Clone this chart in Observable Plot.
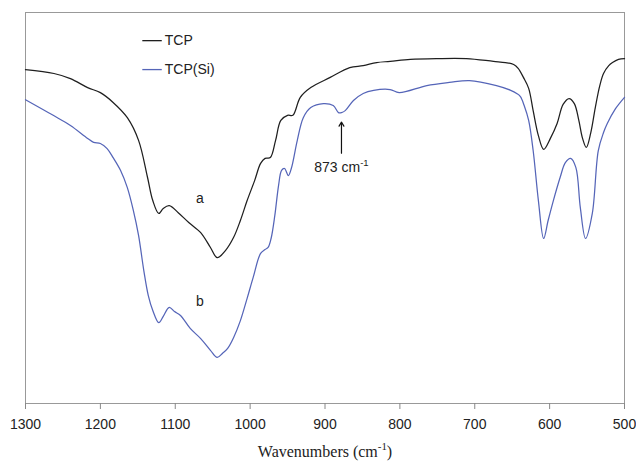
<!DOCTYPE html>
<html><head><meta charset="utf-8">
<script src="https://cdn.jsdelivr.net/npm/d3@7"></script>
<script src="https://cdn.jsdelivr.net/npm/@observablehq/plot@0.6"></script>
<style>body{margin:0;background:#fff}</style>
</head><body><div id="chart"></div>
<script>
// Wavenumber (cm-1) and relative transmittance
const wnTCP = [1300,1262,1240,1217,1200,1183,1164,1149,1137,1130,1122,1116,1108,1096,1082,1066,1053,1044,1033,1022,1013,1004,994,986,980,973,966,959,950,943,933,919,893,867,849,831,813,786,751,711,675,659,648,642,635,628,622,615,608,599,590,582,574,567,561,556,551,545,539,533,528,521,516,508,500];
const tTCP  = [85.4,84.4,83.1,80.8,79.5,77.0,73.1,67.3,57.8,51.9,48.6,49.9,50.6,48.8,46.3,43.7,39.9,37.3,39.1,42.5,46.8,51.9,57.0,61.4,62.7,62.9,67.3,72.4,73.7,73.7,78.3,80.8,83.4,85.9,86.4,87.2,87.5,88.0,88.2,88.2,87.5,87.2,86.7,85.7,83.4,80.6,74.9,68.5,65.0,67.8,71.6,76.5,78.0,76.7,72.4,67.8,65.5,69.3,75.7,81.3,84.4,86.4,87.2,88.0,88.2];

const wnSi = [1300,1263,1240,1217,1209,1200,1191,1183,1173,1164,1156,1149,1142,1136,1130,1122,1116,1108,1101,1093,1080,1066,1053,1044,1037,1030,1022,1013,1004,996,986,980,976,972,967,962,958,954,949,945,937,929,919,902,889,882,878,873,862,849,835,813,801,764,734,707,671,652,644,639,634,628,622,615,608,602,595,586,579,572,565,559,552,543,535,528,523,512,500];
const tSi  = [77.7,73.7,71.1,67.8,66.8,66.5,65.2,62.9,59.6,55.2,49.4,43.0,34.0,27.6,23.8,20.7,22.3,24.6,23.5,22.5,19.2,16.6,13.6,11.8,12.8,14.1,16.9,21.2,26.9,32.2,38.4,39.4,39.9,42.2,48.1,55.8,59.6,60.1,58.3,60.1,67.3,73.1,75.7,76.7,76.2,74.4,74.4,74.9,77.5,79.3,80.1,80.3,79.5,81.3,82.1,82.6,81.3,80.1,79.3,78.5,76.2,72.4,64.7,51.9,42.2,46.8,51.9,57.8,61.6,62.7,60.4,50.1,42.2,48.6,64.7,69.3,71.6,75.4,78.3];

const xTicks = [1300,1200,1100,1000,900,800,700,600,500];
const seriesNames = ["TCP", "TCP(Si)"];
const seriesColors = ["#1f1f1f", "#5565b8"];

// legend anchor (data coordinates)
const legendX1 = 1144, legendX2 = 1118, legendTextX = 1114;
const legendY = [92.8, 85.4];

// annotations
const curveLabels = ["a", "b"];
const curveLabelX = [1067, 1067];
const curveLabelY = [52.4, 26.1];
const peakLabel = "873 cm-1";
const peakWn = 878;
const arrowFrom = 64.0, arrowTo = 72.0, peakLabelY = 60.4;
const axisTitle = "Wavenumbers (cm-1)";

const tcp = wnTCP.map((w, i) => ({wn: w, t: tTCP[i]}));
const tcpSi = wnSi.map((w, i) => ({wn: w, t: tSi[i]}));
const legend = seriesNames.map((n, i) => ({name: n, color: seriesColors[i], y: legendY[i]}));
const letters = curveLabels.map((l, i) => ({l, x: curveLabelX[i], y: curveLabelY[i]}));

const plot = Plot.plot({
  width: 636, height: 463,
  marginLeft: 25, marginRight: 12, marginTop: 12, marginBottom: 60,
  style: {fontFamily: "'Liberation Sans', Arial, sans-serif", fontSize: "14px", color: "#222", background: "#fff"},
  x: {domain: [1300, 500]},
  y: {domain: [0, 100], axis: null},
  marks: [
    Plot.frame({stroke: "#999"}),
    Plot.axisX({ticks: xTicks, tickSize: 6, tickPadding: 10, stroke: "#888", label: null, fontSize: 14, tickFormat: d => String(d)}),
    Plot.line(tcp, {x: "wn", y: "t", stroke: seriesColors[0], strokeWidth: 1.25, curve: "catmull-rom"}),
    Plot.line(tcpSi, {x: "wn", y: "t", stroke: seriesColors[1], strokeWidth: 1.25, curve: "catmull-rom"}),
    Plot.link(legend, {x1: () => legendX1, x2: () => legendX2, y1: "y", y2: "y", stroke: "color", strokeWidth: 1.3}),
    Plot.text(legend, {x: () => legendTextX, y: "y", text: "name", textAnchor: "start", fill: "#222", fontSize: 14}),
    Plot.text(letters, {x: "x", y: "y", text: "l", fill: "#222", fontSize: 14}),
    Plot.arrow([{x: peakWn}], {x1: "x", x2: "x", y1: () => arrowFrom, y2: () => arrowTo, stroke: "#111", strokeWidth: 1.2, headLength: 6}),
    Plot.text([peakLabel], {x: () => peakWn, y: () => peakLabelY, text: d => d, fill: "#222", fontSize: 14}),
    Plot.text([axisTitle], {frameAnchor: "bottom", dy: 53, text: d => d, fill: "#222", fontSize: 16, fontFamily: "'Liberation Serif', 'Times New Roman', serif"})
  ]
});
document.getElementById("chart").appendChild(plot);

// render "-1" as superscript
function supify(el, size) {
  const s = el.textContent;
  const m = s.match(/^(.*cm)-1(\)?)$/);
  if (!m) return;
  const sel = d3.select(el);
  sel.text(null);
  sel.append("tspan").text(m[1]);
  sel.append("tspan").attr("dy", -size * 0.4).attr("font-size", size * 0.68).text("-1");
  if (m[2]) sel.append("tspan").attr("dy", size * 0.4).text(m[2]);
}
d3.select(plot).selectAll("text").each(function() {
  const t = this.textContent;
  if (t === peakLabel) supify(this, 14);
  else if (t === axisTitle) supify(this, 16);
});
</script></body></html>
